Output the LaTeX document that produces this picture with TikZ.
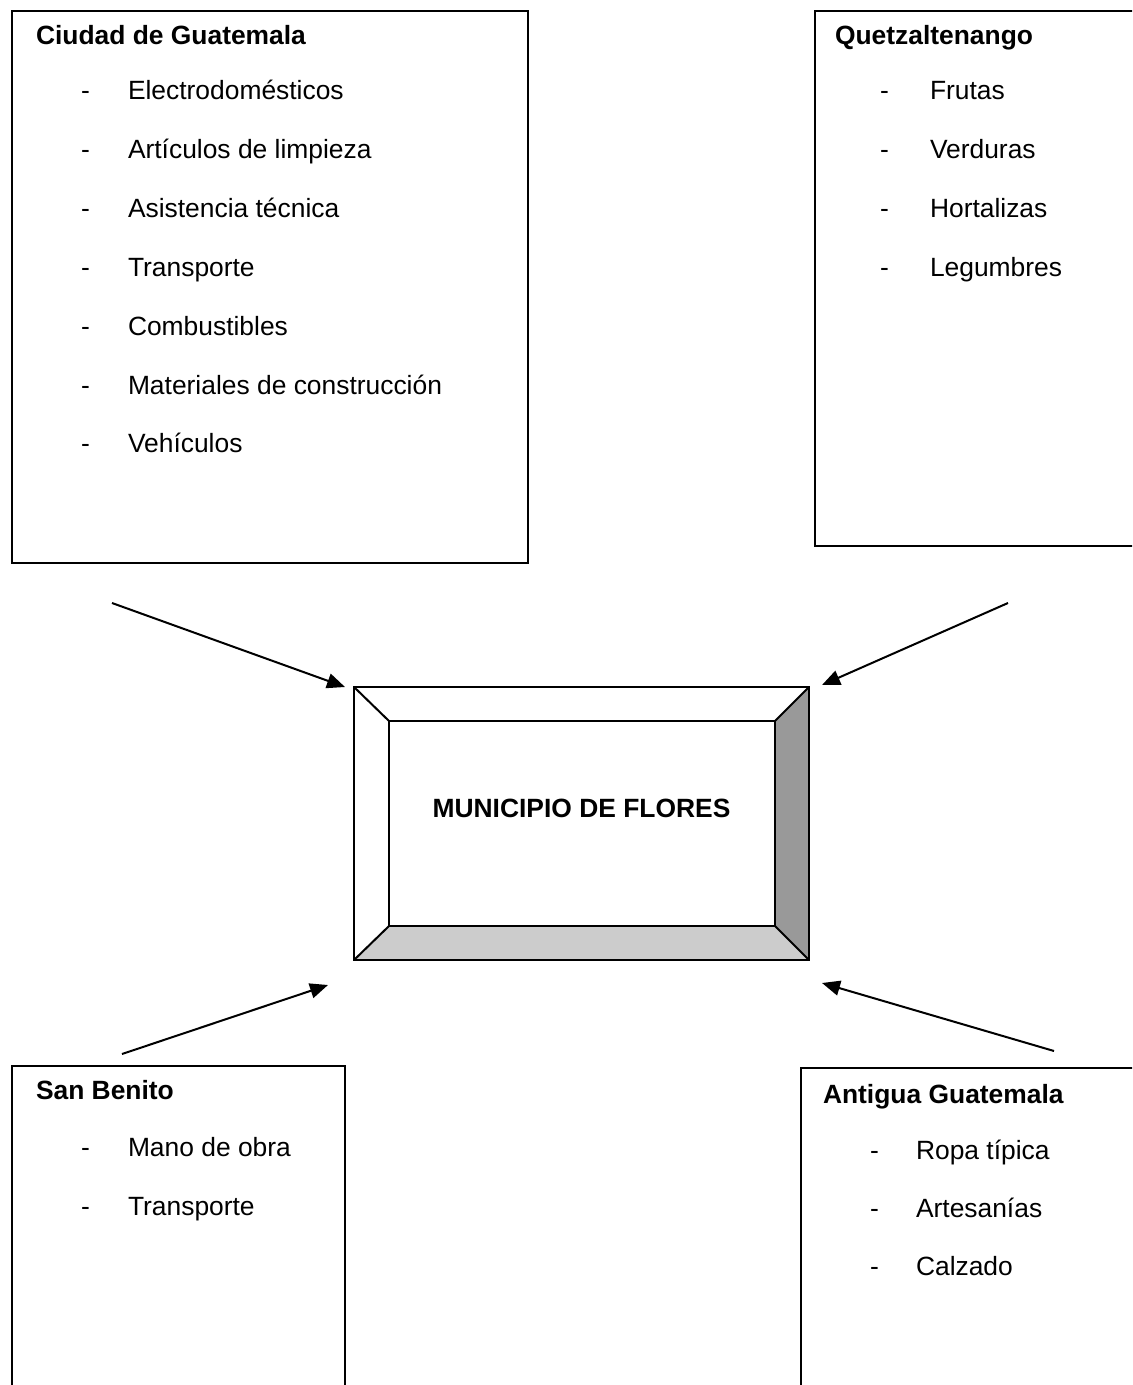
\documentclass[tikz,border=0pt]{standalone}
\usepackage{fontspec}
\setmainfont{Liberation Sans}
\usetikzlibrary{arrows.meta, positioning, calc}

\begin{document}
\begin{tikzpicture}[x=0.5pt, y=-0.5pt, line width=1pt,
    caja/.style={draw, line width=1pt, anchor=north west, inner sep=0pt},
    titulo/.style={anchor=base west, inner sep=0pt, font=\fontsize{13.2}{15}\selectfont\bfseries},
    item/.style={anchor=base west, inner sep=0pt, font=\fontsize{13.2}{15}\selectfont},
    flecha/.style={-{Triangle[length=9pt, width=7.5pt]}, line width=1pt}]
        \useasboundingbox (0,0) rectangle (1132,1385);
        \clip (0,0) rectangle (1132,1385);

        % Cajas de origen
        \node[caja, minimum width=258pt, minimum height=276pt] (cg) at (11,10) {};
        \node[caja, minimum width=200pt, minimum height=267.5pt] (qz) at (814,10) {};
        \node[caja, minimum width=166.5pt, minimum height=200pt] (sb) at (11,1065) {};
        \node[caja, minimum width=200pt, minimum height=200pt] (ag) at (800,1067) {};

        % Titulos
        \node[titulo] (cgT) at (35,45) {Ciudad de Guatemala};
        \node[titulo] (qzT) at (834,45) {Quetzaltenango};
        \node[titulo] (sbT) at (35,1099) {San Benito};
        \node[titulo] (agT) at (822,1103) {Antigua Guatemala};

        % Listas
        \foreach \t [count=\i] in {Electrodomésticos, Artículos de limpieza, Asistencia técnica,
                Transporte, Combustibles, Materiales de construcción, Vehículos} {
            \node[item] (cgG\i) at (80,{100+58.8*(\i-1)}) {-};
            \node[item] (cgI\i) at (127,{100+58.8*(\i-1)}) {\t};
        }
        \foreach \t [count=\i] in {Frutas, Verduras, Hortalizas, Legumbres} {
            \node[item] (qzG\i) at (879,{100+58.8*(\i-1)}) {-};
            \node[item] (qzI\i) at (929,{100+58.8*(\i-1)}) {\t};
        }
        \foreach \t [count=\i] in {Mano de obra, Transporte} {
            \node[item] (sbG\i) at (80,{1156+59*(\i-1)}) {-};
            \node[item] (sbI\i) at (127,{1156+59*(\i-1)}) {\t};
        }
        \foreach \t [count=\i] in {Ropa típica, Artesanías, Calzado} {
            \node[item] (agG\i) at (869,{1159+58*(\i-1)}) {-};
            \node[item] (agI\i) at (915,{1159+58*(\i-1)}) {\t};
        }

        % Caja central biselada
        \node[minimum width=226.5pt, minimum height=135.5pt, inner sep=0pt] (mf) at (581.5,823.5) {};
        \coordinate (mfA) at ($(mf.north west)+(35,34)$);
        \coordinate (mfB) at ($(mf.north east)+(-34,34)$);
        \coordinate (mfC) at ($(mf.south east)+(-34,-34)$);
        \coordinate (mfD) at ($(mf.south west)+(35,-34)$);
        \fill[black!40] (mf.north east) -- (mf.south east) -- (mfC) -- (mfB) -- cycle;
        \fill[black!20] (mf.south west) -- (mf.south east) -- (mfC) -- (mfD) -- cycle;
        \draw (mf.north west) rectangle (mf.south east);
        \draw (mfA) rectangle (mfC);
        \draw (mf.north west) -- (mfA) (mf.north east) -- (mfB)
              (mf.south east) -- (mfC) (mf.south west) -- (mfD);
        \node[titulo, anchor=center] (mfT) at ($(mf.center)+(0,-15.5)$) {MUNICIPIO DE FLORES};

        % Flechas
        \coordinate (f1) at (112,603);  \coordinate (p1) at (345,687);
        \coordinate (f2) at (1008,603); \coordinate (p2) at (822,685);
        \coordinate (f3) at (122,1054); \coordinate (p3) at (328,985);
        \coordinate (f4) at (1054,1051); \coordinate (p4) at (822,983);
        \draw[flecha] (f1) -- (p1);
        \draw[flecha] (f2) -- (p2);
        \draw[flecha] (f3) -- (p3);
        \draw[flecha] (f4) -- (p4);
    \end{tikzpicture}
\end{document}
